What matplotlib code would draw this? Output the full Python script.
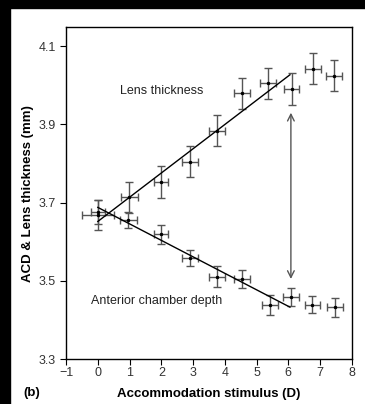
import matplotlib.pyplot as plt
from matplotlib.patches import Rectangle

plt.rcParams['font.family'] = ['Liberation Sans', 'DejaVu Sans']

# lens thickness (mm) vs accommodation stimulus (D)
lens_x = [0.0, 0.99, 1.99, 2.90, 3.76, 4.55, 5.36, 6.10, 6.78, 7.44]
lens_y = [3.668, 3.714, 3.752, 3.805, 3.884, 3.980, 4.005, 3.991, 4.043, 4.025]
lens_xerr = [0.5, 0.26, 0.23, 0.25, 0.25, 0.25, 0.24, 0.25, 0.26, 0.25]
lens_yerr = [0.038, 0.04, 0.041, 0.04, 0.04, 0.04, 0.04, 0.04, 0.04, 0.04]

# anterior chamber depth (mm)
acd_x = [0.0, 0.96, 1.99, 2.90, 3.76, 4.55, 5.42, 6.08, 6.76, 7.46]
acd_y = [3.676, 3.656, 3.619, 3.559, 3.511, 3.505, 3.438, 3.459, 3.439, 3.433]
acd_xerr = [0.22, 0.27, 0.22, 0.25, 0.25, 0.25, 0.25, 0.25, 0.25, 0.25]
acd_yerr = [0.03, 0.02, 0.024, 0.02, 0.026, 0.023, 0.026, 0.024, 0.022, 0.024]

# regression lines
fit_x = [0.0, 6.05]
lens_fit = [3.652, 4.027]
acd_fit = [3.688, 3.433]

fig = plt.figure(figsize=(3.65, 4.04), dpi=100)
ax = fig.add_axes([0.181, 0.111, 0.783, 0.822])

ebar = dict(fmt='o', ms=1.5, mfc='k', mec='k', ecolor='#555555',
            elinewidth=1.0, capsize=3, capthick=1.0)
ax.errorbar(lens_x, lens_y, xerr=lens_xerr, yerr=lens_yerr, **ebar)
ax.errorbar(acd_x, acd_y, xerr=acd_xerr, yerr=acd_yerr, **ebar)

ax.plot(fit_x, lens_fit, color='k', lw=1.0)
ax.plot(fit_x, acd_fit, color='k', lw=1.0)

ax.annotate('', xy=(6.08, 3.93), xytext=(6.08, 3.505),
            arrowprops=dict(arrowstyle='<->', color='#555555', lw=1.0,
                            mutation_scale=12, shrinkA=0, shrinkB=0))

ax.text(2.0, 3.986, 'Lens thickness', ha='center', va='center', fontsize=9, color='#222222')
ax.text(1.85, 3.448, 'Anterior chamber depth', ha='center', va='center', fontsize=9, color='#222222')

ax.set_xlim(-1, 8)
ax.set_ylim(3.3, 4.149)
ax.set_xticks(range(-1, 9))
ax.set_yticks([3.3, 3.5, 3.7, 3.9, 4.1])
ax.tick_params(labelsize=9, labelcolor='#333333', length=4, width=0.8)
ax.tick_params(axis='x', pad=2)
for s in ax.spines.values():
    s.set_linewidth(1.0)

ax.set_xlabel('Accommodation stimulus (D)', fontsize=9.5, fontweight='bold', labelpad=6)
ax.set_ylabel('ACD & Lens thickness (mm)', fontsize=9.5, fontweight='bold', labelpad=3)
fig.text(0.065, 0.02, '(b)', fontsize=9.5, fontweight='bold')

# black frame strips on top and left
fig.patches.append(Rectangle((0, 1 - 8 / 404), 1, 8 / 404, transform=fig.transFigure,
                             color='k', zorder=10))
fig.patches.append(Rectangle((0, 0), 10 / 365, 1, transform=fig.transFigure,
                             color='k', zorder=10))

fig.savefig('out.png', dpi=100)
